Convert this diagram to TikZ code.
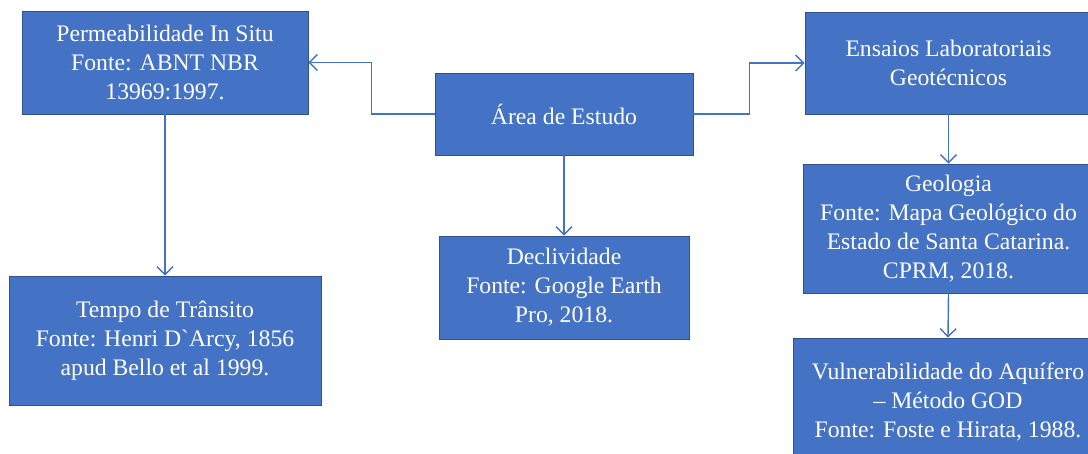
\documentclass[tikz,border=0pt]{standalone}
\usepackage{fontspec}
\setmainfont{Liberation Serif}
\usetikzlibrary{arrows.meta}
\definecolor{boxfill}{HTML}{4472C4}
\definecolor{boxline}{HTML}{2F528F}
\definecolor{conncol}{HTML}{4472C4}
\tikzset{
  box/.style={rectangle, draw=boxline, line width=0.8pt, fill=boxfill, text=white,
    align=center, inner sep=0pt, font=\fontsize{23.7}{29}\selectfont},
  conn/.style={draw=conncol, line width=1.4pt, -{Straight Barb[length=8pt,width=16pt,line width=1.4pt]}}
}
\begin{document}
\begin{tikzpicture}[x=1pt,y=-1pt]
\useasboundingbox (0,0) rectangle (1088,454);
\node[box, minimum width=286pt, minimum height=103pt] (perm) at (165,62.5)
  {Permeabilidade In Situ\\Fonte: ABNT NBR\\13969:1997.};
\node[box, minimum width=258pt, minimum height=82pt] (area) at (564,114)
  {Área de Estudo};
\node[box, minimum width=287pt, minimum height=102pt] (ens) at (948.5,63)
  {Ensaios Laboratoriais\\Geotécnicos};
\node[box, minimum width=291pt, minimum height=129pt] (geo) at (948.5,228.5)
  {Geologia\\Fonte: Mapa Geológico do\\Estado de Santa Catarina.\\CPRM, 2018.};
\node[box, minimum width=310pt, minimum height=128pt] (vuln) at (948,402)
  {Vulnerabilidade do Aquífero\\– Método GOD\\Fonte: Foste e Hirata, 1988.};
\node[box, minimum width=312pt, minimum height=129pt] (tempo) at (165,340.5)
  {Tempo de Trânsito\\Fonte: Henri D\textasciigrave Arcy, 1856\\apud Bello et al 1999.};
\node[box, minimum width=250pt, minimum height=103pt] (decl) at (564,287.5)
  {Declividade\\Fonte: Google Earth\\Pro, 2018.};
\draw[conn] (area.west) -- ++(-63,0) |- (perm.east);
\draw[conn] (area.east) -- ++(56,0) |- (ens.west);
\draw[conn] (area.south) -- (decl.north);
\draw[conn] (perm.south) -- (tempo.north);
\draw[conn] (ens.south) -- (geo.north);
\draw[conn] (geo.south) -- (vuln.north);
\end{tikzpicture}
\end{document}
